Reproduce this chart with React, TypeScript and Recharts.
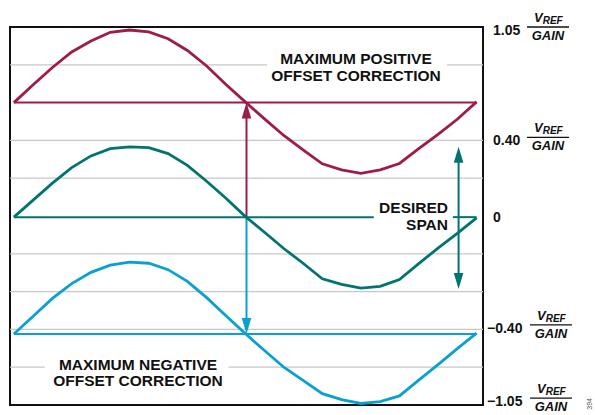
import { Customized, Line, LineChart, ReferenceArea, ReferenceLine, XAxis, YAxis } from 'recharts';

// phase of the waveform in degrees, one point every 15°
const phase = [0, 15, 30, 45, 60, 75, 90, 105, 120, 135, 150, 165, 180, 195, 210, 225, 240, 255, 270, 285, 300, 315, 330, 345, 360];

// curves, in grid units (0 = bottom edge, 10 = top edge)
const positiveWave = [8.0, 8.47, 8.93, 9.34, 9.63, 9.86, 9.92, 9.87, 9.69, 9.38, 8.97, 8.48, 8.02, 7.57, 7.13, 6.75, 6.38, 6.22, 6.13, 6.22, 6.39, 6.78, 7.16, 7.56, 8.02];
const desiredWave = [4.97, 5.42, 5.87, 6.28, 6.59, 6.78, 6.83, 6.81, 6.65, 6.34, 5.92, 5.47, 4.99, 4.57, 4.14, 3.75, 3.34, 3.19, 3.09, 3.14, 3.32, 3.74, 4.15, 4.54, 4.95];
const negativeWave = [1.88, 2.35, 2.82, 3.21, 3.51, 3.7, 3.78, 3.75, 3.58, 3.27, 2.84, 2.36, 1.89, 1.44, 1.0, 0.65, 0.3, 0.14, 0.04, 0.09, 0.24, 0.66, 1.07, 1.49, 1.9];

// offset levels of each waveform
const positiveLevel = 8.0;
const desiredLevel = 4.97;
const negativeLevel = 1.88;

// span arrow
const spanPhase = 346;
const spanTop = 6.83;
const spanBottom = 3.07;
const correctionPhase = 181;

// right axis
const axisTicks = [9.92, 7, 4.97, 2.04, 0.1];
const axisLabels = ['1.05', '0.40', '0', '\u22120.40', '\u22121.05'];

const gridLevels = [1, 2, 3, 4, 6, 7, 9];

const data = phase.map((p, i) => ({
  phase: p,
  positive: positiveWave[i],
  desired: desiredWave[i],
  negative: negativeWave[i],
}));

const MAROON = '#9E1C47';
const TEAL = '#00756F';
const BLUE = '#0AA0D2';
const GRID = '#c8c8c8';
const FONT = '"Liberation Sans", Arial, Helvetica, sans-serif';

const X_MIN = -3;
const X_MAX = 365;

// where the grid lines stop for the text labels
const gridGaps: Record<number, [number, number]> = {
  9: [197, 337],
  1: [24, 167],
};

function arrowShape(color: string, heads: 'start' | 'end' | 'both') {
  return (p: any) => {
    const { x1, y1, x2, y2 } = p;
    const dir = Math.sign(y2 - y1) || 1;
    const len = 16;
    const half = 4.8;
    const sy = heads === 'end' ? y1 : y1 + dir * 10;
    const ey = heads === 'start' ? y2 : y2 - dir * 10;
    return (
      <g>
        <line x1={x1} y1={sy} x2={x2} y2={ey} stroke={color} strokeWidth={2} />
        {heads !== 'start' && (
          <polygon
            points={`${x2},${y2} ${x2 - half},${y2 - dir * len} ${x2 + half},${y2 - dir * len}`}
            fill={color}
          />
        )}
        {heads !== 'end' && (
          <polygon
            points={`${x1},${y1} ${x1 - half},${y1 + dir * len} ${x1 + half},${y1 + dir * len}`}
            fill={color}
          />
        )}
      </g>
    );
  };
}

function RightTick(props: any) {
  const { x, y, payload } = props;
  const idx = axisTicks.indexOf(payload.value);
  const label = axisLabels[idx];
  const neg = label.startsWith('\u2212');
  const numX = neg ? x - 4 : x + 2;
  const cx = neg ? x + 60 : x + 57;
  return (
    <g fontFamily={FONT} fontWeight='bold' fill='#111'>
      <text x={numX} y={y + 5} fontSize={14}>
        {label}
      </text>
      {label !== '0' && (
        <g>
          <text x={cx - 14} y={y - 8} fontSize={13} fontStyle='italic'>
            V
            <tspan fontSize={10} dy={2}>
              REF
            </tspan>
          </text>
          <line x1={cx - 21} x2={cx + 21} y1={y - 3} y2={y - 3} stroke='#111' strokeWidth={1.3} />
          <text x={cx} y={y + 10} fontSize={13} fontStyle='italic' textAnchor='middle'>
            GAIN
          </text>
        </g>
      )}
    </g>
  );
}

function Notes() {
  return (
    <g fontFamily={FONT} fontWeight='bold' fontSize={15.5} fill='#111' textAnchor='middle'>
      <text x={356} y={64}>
        <tspan x={356}>MAXIMUM POSITIVE</tspan>
        <tspan x={356} dy={17}>OFFSET CORRECTION</tspan>
      </text>
      <text x={138} y={370}>
        <tspan x={138}>MAXIMUM NEGATIVE</tspan>
        <tspan x={138} dy={15.5}>OFFSET CORRECTION</tspan>
      </text>
      <text x={448} y={213} textAnchor='end'>
        <tspan x={448}>DESIRED</tspan>
        <tspan x={448} dy={17}>SPAN</tspan>
      </text>
      <text x={592} y={398} fontSize={7} fontWeight='normal' fill='#555' textAnchor='end' transform='rotate(-90 592 398)'>
        394
      </text>
    </g>
  );
}

export default function App() {
  return (
    <div style={{ position: 'absolute', left: 0, top: 0 }}>
      <LineChart width={595} height={415} data={data} margin={{ top: 27, right: 0, bottom: 10, left: 10 }}>
        <XAxis dataKey='phase' type='number' domain={[X_MIN, X_MAX]} hide allowDataOverflow />
        <YAxis
          orientation='right'
          type='number'
          domain={[0, 10]}
          ticks={axisTicks}
          interval={0}
          width={112}
          axisLine={false}
          tickLine={false}
          tick={<RightTick />}
        />

        {gridLevels.map((lv) => {
          const gap = gridGaps[lv];
          if (!gap) {
            return <ReferenceLine key={lv} y={lv} stroke={GRID} strokeWidth={1.3} />;
          }
          return [
            <ReferenceLine key={`${lv}a`} segment={[{ x: X_MIN, y: lv }, { x: gap[0], y: lv }]} stroke={GRID} strokeWidth={1.3} />,
            <ReferenceLine key={`${lv}b`} segment={[{ x: gap[1], y: lv }, { x: X_MAX, y: lv }]} stroke={GRID} strokeWidth={1.3} />,
          ];
        })}

        {/* offset levels */}
        <ReferenceLine segment={[{ x: 0, y: positiveLevel }, { x: 360, y: positiveLevel }]} stroke={MAROON} strokeWidth={2} />
        <ReferenceLine segment={[{ x: 0, y: desiredLevel }, { x: 280, y: desiredLevel }]} stroke={TEAL} strokeWidth={2} />
        <ReferenceLine segment={[{ x: 341.6, y: desiredLevel }, { x: 360, y: desiredLevel }]} stroke={TEAL} strokeWidth={2} />
        <ReferenceLine segment={[{ x: 0, y: negativeLevel }, { x: 360, y: negativeLevel }]} stroke={BLUE} strokeWidth={2} />

        {/* arrows */}
        <ReferenceLine
          segment={[{ x: correctionPhase, y: desiredLevel }, { x: correctionPhase, y: positiveLevel }]}
          shape={arrowShape(MAROON, 'end')}
        />
        <ReferenceLine
          segment={[{ x: correctionPhase, y: desiredLevel }, { x: correctionPhase, y: negativeLevel }]}
          shape={arrowShape(BLUE, 'end')}
        />
        <ReferenceLine
          segment={[{ x: spanPhase, y: spanTop }, { x: spanPhase, y: spanBottom }]}
          shape={arrowShape(TEAL, 'both')}
        />

        <Line dataKey='positive' stroke={MAROON} strokeWidth={2.8} dot={false} isAnimationActive={false} />
        <Line dataKey='desired' stroke={TEAL} strokeWidth={2.8} dot={false} isAnimationActive={false} />
        <Line dataKey='negative' stroke={BLUE} strokeWidth={2.8} dot={false} isAnimationActive={false} />

        <ReferenceArea x1={X_MIN} x2={X_MAX} y1={0} y2={10} fill='none' stroke='#111' strokeWidth={2} ifOverflow='visible' />
        <Customized component={<Notes />} />
      </LineChart>
    </div>
  );
}
